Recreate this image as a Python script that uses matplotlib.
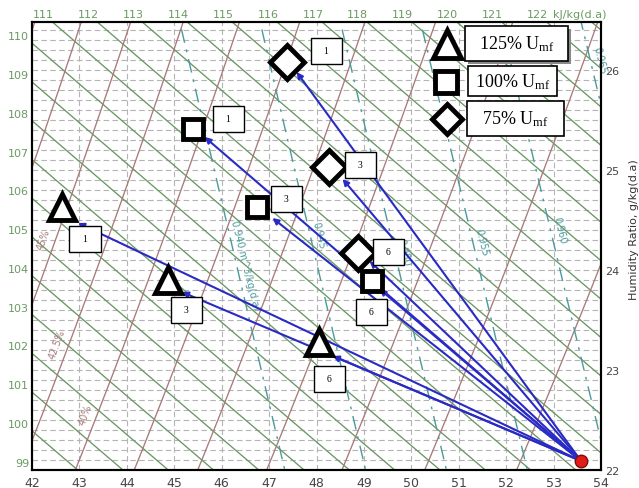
import numpy as np
import matplotlib
matplotlib.use("Agg")
import matplotlib.pyplot as plt
from matplotlib.patches import Rectangle
from matplotlib.lines import Line2D

plt.rcParams['mathtext.fontset'] = 'custom'
plt.rcParams['mathtext.rm'] = 'Liberation Serif'
plt.rcParams['mathtext.it'] = 'Liberation Serif:italic'

# ---------------- data ----------------
P_ATM = 101.325  # kPa
ENH = 1.005      # enhancement factor
t_ticks = list(range(42, 55))                 # dry bulb, deg C
w_ticks = [22, 23, 24, 25, 26]                # humidity ratio, g/kg
h_left = list(range(99, 111))                 # enthalpy labels on left edge
h_top = list(range(111, 123))                 # enthalpy labels on top edge
h_lines = list(range(95, 127))                # enthalpy lines kJ/kg
rh_lines = [0.25, 0.275, 0.30, 0.325, 0.35, 0.375, 0.40, 0.425, 0.45, 0.475, 0.50, 0.525]
v_lines = [0.940, 0.945, 0.950, 0.955, 0.960, 0.965]
v_label_text = ['0.940 m^3/kg(d.a)', '0.945', '0.950', '0.955', '0.960', '0.965']
v_label_w = [24.06, 24.35, 24.18, 24.28, 24.40, 26.10]
rh_label_text = ['45%', '42.5%', '40%']
rh_label_val = [0.45, 0.425, 0.40]
rh_label_w = [24.31, 23.26, 22.56]

# process: common start point and the end points of the arrows
start_T, start_W = 53.58, 22.09
case_names = ['125% U$_{\\mathrm{mf}}$', '100% U$_{\\mathrm{mf}}$', '75% U$_{\\mathrm{mf}}$']
step_labels = ['1', '3', '6']
tri_T = [42.97, 45.16, 48.34]
tri_W = [24.47, 23.78, 23.14]
sq_T = [45.64, 47.07, 49.33]
sq_W = [25.33, 24.52, 23.81]
dia_T = [47.58, 48.55, 49.12]
dia_W = [25.98, 24.91, 24.09]

# ---------------- layout / style ----------------
W_PX, H_PX = 639, 489
AX_L, AX_R, AX_T, AX_B = 32, 601, 23, 471
XMIN, XMAX = 42, 54
YMIN = 22.0
YMAX = 22.0 + (AX_B - AX_T) / 100.0

GREEN = '#6a9764'
GREEN_TXT = '#6a9a62'
BROWN = '#a87a7a'
TEAL = '#4b9a9c'
BLUE = '#2a2ac4'
GRID = '#b4b4b4'

def px(dx, dy):
    """pixel offset -> points offset (y up)"""
    return dx * 0.72, -dy * 0.72

# marker offsets from arrow tips (pixels) and label box offsets from marker (pixels)
tri_moff = [(-16, -16), (-14, -12), (-14, -14)]
sq_moff = [(-12, -8), (-15, -11), (-8, -8)]
dia_moff = [(-10, -10), (-14, -12), (-12, -8)]
tri_loff = [(23, 32), (19, 30), (11, 37)]
sq_loff = [(36, -10), (29, -8), (0, 31)]
dia_loff = [(40, -11), (32, -2), (31, -1)]


def psat(tc):
    T = tc + 273.15
    return np.exp(-5.8002206e3 / T + 1.3914993 - 4.8640239e-2 * T + 4.1764768e-5 * T**2
                  - 1.4452093e-8 * T**3 + 6.5459673 * np.log(T)) / 1000.0


def w_rh(tc, phi):
    pw = ENH * phi * psat(tc)
    return 622.0 * pw / (P_ATM - pw)


def w_h(tc, h):
    return 1000.0 * (h - 1.006 * tc) / (2501.0 + 1.86 * tc)


def t_v(w_g, v):
    w = w_g / 1000.0
    return v * P_ATM / (0.287042 * (1 + 1.607858 * w)) - 273.15


def t_h(w_g, h):
    w = w_g / 1000.0
    return (h - 2501.0 * w) / (1.006 + 1.86 * w)


fig = plt.figure(figsize=(W_PX / 100, H_PX / 100), dpi=100)
ax = fig.add_axes([AX_L / W_PX, (H_PX - AX_B) / H_PX, (AX_R - AX_L) / W_PX, (AX_B - AX_T) / H_PX])
ax.set_xlim(XMIN, XMAX)
ax.set_ylim(YMIN, YMAX)

# grid
for t in t_ticks[1:-1]:
    ax.axvline(t, color=GRID, lw=0.8, ls=(0, (5, 3)), zorder=1)
for w in np.arange(22.1, YMAX, 0.1):
    ax.axhline(w, color=GRID, lw=0.8, ls=(0, (5, 3)), zorder=1)

tt = np.linspace(40, 56, 400)
ww = np.linspace(21.5, 27, 200)
for h in h_lines:
    ax.plot(tt, w_h(tt, h), color=GREEN, lw=0.95, zorder=2)
for phi in rh_lines:
    ax.plot(tt, w_rh(tt, phi), color=BROWN, lw=0.95, zorder=2)
for v in v_lines:
    ax.plot(t_v(ww, v), ww, color=TEAL, lw=1.0, ls=(0, (10, 5, 2, 5)), zorder=2)

# volume labels
for v, txt, wl in zip(v_lines, v_label_text, v_label_w):
    ax.annotate(txt, xy=(t_v(wl, v), wl), xytext=px(9, 0), textcoords='offset points',
                rotation=-76, ha='center', va='center', fontsize=7, color=TEAL, zorder=2,
                annotation_clip=False)
# RH labels
for txt, phi, wl in zip(rh_label_text, rh_label_val, rh_label_w):
    tl = np.interp(wl, w_rh(tt, phi), tt)
    ax.annotate(txt, xy=(tl, wl), xytext=px(-12, 0), textcoords='offset points',
                rotation=70, ha='center', va='center', fontsize=7, color=BROWN, zorder=2)

# axes ticks and labels
ax.set_xticks(t_ticks)
ax.set_xticklabels([str(t) for t in t_ticks])
ax.set_yticks([])
ax.tick_params(axis='x', length=0, labelsize=9, labelcolor='#444444', pad=4)
ax2 = ax.twinx()
ax2.set_ylim(YMIN, YMAX)
ax2.set_yticks(w_ticks)
ax2.set_yticklabels([str(w) for w in w_ticks])
ax2.tick_params(axis='y', length=0, labelsize=8, labelcolor='#444444', pad=3)
for a in (ax, ax2):
    for s in a.spines.values():
        s.set_color('black')
        s.set_linewidth(1.5)
fig.text(634 / W_PX, 1 - 230 / H_PX, 'Humidity Ratio, g/kg(d.a)', rotation=90,
         ha='center', va='center', fontsize=8, color='#333333')

for h in h_left:
    ax.annotate(str(h), xy=(XMIN, w_h(XMIN, h)), xytext=px(-3, -7), textcoords='offset points',
                ha='right', va='center', fontsize=8, color=GREEN_TXT, annotation_clip=False)
for h in h_top:
    ax.annotate(str(h), xy=(t_h(YMAX, h), YMAX), xytext=px(-9, -8), textcoords='offset points',
                ha='center', va='center', fontsize=8, color=GREEN_TXT, annotation_clip=False)
ax.annotate('kJ/kg(d.a)', xy=(XMAX, YMAX), xytext=px(6, -8), textcoords='offset points',
            ha='right', va='center', fontsize=8, color=GREEN_TXT, annotation_clip=False)

# process arrows, markers and step boxes
groups = [(tri_T, tri_W, '^', 19, tri_moff, tri_loff),
          (sq_T, sq_W, 's', 14.5, sq_moff, sq_loff),
          (dia_T, dia_W, 'D', 17, dia_moff, dia_loff)]
for Ts, Ws, mk, ms, moff, loff in groups:
    for T, W, lab, mo, lo in zip(Ts, Ws, step_labels, moff, loff):
        ax.annotate('', xy=(T, W), xytext=(start_T, start_W),
                    arrowprops=dict(arrowstyle='-|>', color=BLUE, lw=1.5, mutation_scale=9,
                                    shrinkA=0, shrinkB=0), zorder=4)
        mx, my = ax.transData.transform((T, W))
        mx += mo[0]
        my -= mo[1]
        ax.plot([mx], [my], marker=mk, ms=ms, mfc='white', mec='black', mew=3.5,
                transform=None, zorder=5, clip_on=False)
        ax.text(mx + lo[0], my - lo[1], '  ' + lab + '  ', transform=None,
                ha='center', va='center', fontsize=7, family='Liberation Serif',
                bbox=dict(boxstyle='square,pad=0.85', fc='white', ec='black', lw=1.0), zorder=6)

ax.plot([start_T], [start_W], 'o', ms=9, mfc='#e21b1b', mec='#7a1010', mew=1.0, zorder=7,
        clip_on=False)

# legend (manual)
leg_markers = ['^', 's', 'D']
leg_ms = [20, 16, 15.5]
leg_mpos = [(447, 45), (446, 83), (447, 120)]
leg_boxes = [(465, 27, 568, 62), (468, 67, 557, 97), (467, 102, 564, 137)]
leg_shadow = [True, False, False]
for name, mk, ms, (mxp, myp), (x0, y0, x1, y1), sh in zip(case_names, leg_markers, leg_ms,
                                                          leg_mpos, leg_boxes, leg_shadow):
    fig.add_artist(Line2D([mxp / W_PX], [1 - myp / H_PX], marker=mk, ms=ms, mfc='white',
                          mec='black', mew=3.5, transform=fig.transFigure, zorder=10))
    if sh:
        fig.add_artist(Rectangle(((x0 + 3) / W_PX, 1 - (y1 + 3) / H_PX), (x1 - x0) / W_PX,
                                 (y1 - y0) / H_PX, transform=fig.transFigure, fc='#8a8a8a',
                                 ec='none', zorder=9.5))
    fig.add_artist(Rectangle((x0 / W_PX, 1 - y1 / H_PX), (x1 - x0) / W_PX, (y1 - y0) / H_PX,
                             transform=fig.transFigure, fc='white', ec='black', lw=1.2, zorder=10))
    fig.text((x0 + x1) / 2 / W_PX, 1 - (y0 + y1) / 2 / H_PX, name, ha='center', va='center',
             fontsize=13, family='Liberation Serif', zorder=11)

fig.savefig('out.png', dpi=100)
